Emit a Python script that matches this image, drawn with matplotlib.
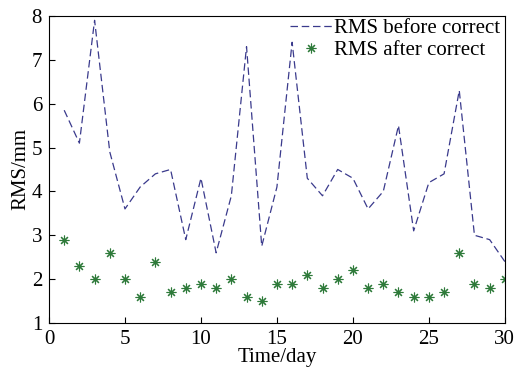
import matplotlib
matplotlib.use('Agg')
import matplotlib.pyplot as plt

# days and RMS values
days = list(range(1, 31))
rms_before = [5.85, 5.1, 7.9, 4.9, 3.6, 4.1, 4.4, 4.5, 2.9, 4.3,
              2.6, 3.9, 7.3, 2.75, 4.1, 7.4, 4.3, 3.9, 4.5, 4.3,
              3.6, 4.0, 5.5, 3.1, 4.2, 4.4, 6.3, 3.0, 2.9, 2.4]
rms_after = [2.9, 2.3, 2.0, 2.6, 2.0, 1.6, 2.4, 1.7, 1.8, 1.9,
             1.8, 2.0, 1.6, 1.5, 1.9, 1.9, 2.1, 1.8, 2.0, 2.2,
             1.8, 1.9, 1.7, 1.6, 1.6, 1.7, 2.6, 1.9, 1.8, 2.0]
xticks = [0, 5, 10, 15, 20, 25, 30]
yticks = [1, 2, 3, 4, 5, 6, 7, 8]

plt.rcParams['font.family'] = 'Liberation Serif'
plt.rcParams['font.size'] = 15

fig = plt.figure(figsize=(5.18, 3.74), dpi=100)
ax = fig.add_axes([0.0946, 0.1364, 0.880, 0.821])

ax.plot(days, rms_before, '--', color='#3a3a8c', linewidth=0.9, dashes=(6, 3),
        label='RMS before correct')
# MATLAB-like asterisk marker (8 arms)
ax.plot(days, rms_after, marker=(8, 2, 0), color='#2e7a3a', markersize=7,
        markeredgewidth=0.8, linestyle='none', label='RMS after correct')

ax.set_xlim(0, 30)
ax.set_ylim(1, 8)
ax.set_xticks(xticks)
ax.set_yticks(yticks)
ax.tick_params(direction='in', top=False, right=False, length=4, labelsize=15, pad=5)
ax.set_xlabel('Time/day', fontsize=15, labelpad=-1)
ax.set_ylabel('RMS/mm', fontsize=15, labelpad=1)
ax.legend(loc='upper right', bbox_to_anchor=(1.012, 1.025), frameon=False,
          fontsize=15, handlelength=2.0, borderaxespad=0.1,
          labelspacing=0.1, handletextpad=0.1)

fig.savefig('out.png', dpi=100)
